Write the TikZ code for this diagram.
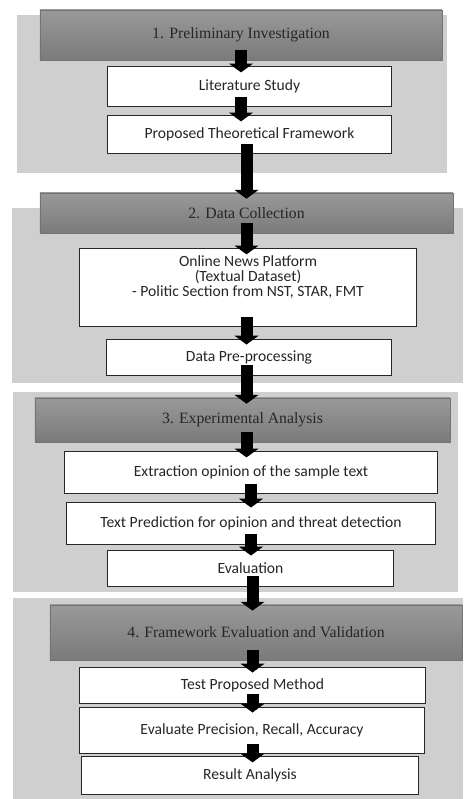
\documentclass[tikz,border=0pt]{standalone}
\usepackage{fontspec}
\setmainfont{Liberation Serif}
\setsansfont{Carlito}
\usetikzlibrary{arrows.meta,positioning}

\begin{document}
\begin{tikzpicture}[
  x=0.025cm, y=-0.025cm,
  stage/.style={draw=none, fill=black!19, inner sep=0pt},
  phase/.style={draw=black!55, line width=0.4pt, top color=black!40,
    bottom color=black!52, inner sep=0pt, text=black!85,
    font=\fontsize{11.2}{12}\selectfont},
  task/.style={draw=black!85, line width=0.7pt, fill=white, inner sep=0pt,
    font=\sffamily\fontsize{11.1}{10.5}\selectfont, text=black!85, align=center},
  flow/.style={line width=0.3cm,
    -{Triangle[width=0.6cm,length=0.22cm,line width=0pt]},
    shorten <=-0.25cm, shorten >=-0.15cm}
]
  \useasboundingbox (0,0) rectangle (463,799);

  % Section backgrounds
  \node[stage, minimum width=10.75cm, minimum height=3.95cm]  (s1) at (232,94) {};
  \node[stage, minimum width=11.28cm, minimum height=4.38cm]  (s2) at (237.5,295.5) {};
  \node[stage, minimum width=11.13cm, minimum height=5cm]     (s3) at (235.5,492) {};
  \node[stage, minimum width=11.25cm, minimum height=5.03cm]  (s4) at (238,698.5) {};

  % Phase headers
  \node[phase, minimum width=10.05cm, minimum height=1.25cm] (h1) at (241,35)
    {1. Preliminary Investigation};
  \node[phase, minimum width=10.33cm, minimum height=1cm]    (h2) at (246.5,213)
    {2. Data Collection};
  \node[phase, minimum width=10.38cm, minimum height=1.1cm]  (h3) at (242.5,420)
    {3. Experimental Analysis};
  \node[phase, minimum width=10.3cm, minimum height=1.38cm]  (h4) at (256,632.5)
    {4. Framework Evaluation and Validation};

  % Tasks
  \node[task, minimum width=7.08cm, minimum height=0.98cm] (lit) at (249.5,86.5)
    {Literature Study};
  \node[task, minimum width=7.08cm, minimum height=0.93cm] (ptf) at (249.5,134.5)
    {Proposed Theoretical Framework};
  \node[task, minimum width=8.4cm, minimum height=1.93cm]  (onp) at (248,287.5)
    {Online News Platform\\(Textual Dataset)\\- Politic Section from NST, STAR, FMT\\[6pt]\mbox{}};
  \node[task, minimum width=7.1cm, minimum height=0.9cm]   (dpp) at (249,357)
    {Data Pre-processing};
  \node[task, minimum width=9.3cm, minimum height=1.03cm]  (ext) at (251,472.5)
    {Extraction opinion of the sample text};
  \node[task, minimum width=9.2cm, minimum height=1.05cm]  (tpd) at (251,523)
    {Text Prediction for opinion and threat detection};
  \node[task, minimum width=7.13cm, minimum height=0.9cm]  (eva) at (250.5,568)
    {Evaluation};
  \node[task, minimum width=8.63cm, minimum height=0.9cm]  (tpm) at (252.5,685)
    {Test Proposed Method};
  \node[task, minimum width=8.6cm, minimum height=1.15cm]  (epr) at (252,730)
    {Evaluate Precision, Recall, Accuracy};
  \node[task, minimum width=8.4cm, minimum height=0.93cm]  (res) at (250,775.5)
    {Result Analysis};

  % Flow arrows
  \draw[flow] (h1.south) -- (lit.north -| h1);
  \draw[flow] (lit.south -| h1) -- (ptf.north -| h1);
  \draw[flow] (ptf.south -| h2) -- (h2.north);
  \draw[flow] (h2.south) -- (onp.north -| h2);
  \draw[flow] (onp.south -| h2) -- (dpp.north -| h2);
  \draw[flow] (dpp.south -| h2) -- (h3.north -| h2);
  \draw[flow] (h3.south -| h2) -- (ext.north -| h2);
  \draw[flow] (ext.south) -- (tpd.north);
  \draw[flow] (tpd.south) -- (eva.north -| tpd);
  \draw[flow] (eva.south -| tpm) -- (h4.north -| tpm);
  \draw[flow] (h4.south -| tpm) -- (tpm.north);
  \draw[flow] (tpm.south) -- (epr.north -| tpm);
  \draw[flow] (epr.south -| tpm) -- (res.north -| tpm);
\end{tikzpicture}
\end{document}
